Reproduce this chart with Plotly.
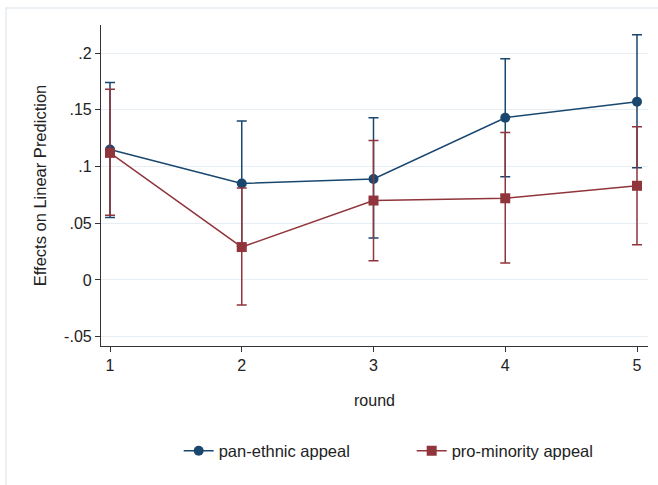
import plotly.graph_objects as go

rounds = [1, 2, 3, 4, 5]

pan_est = [0.115, 0.085, 0.089, 0.143, 0.157]
pan_hi = [0.174, 0.140, 0.143, 0.195, 0.216]
pan_lo = [0.055, 0.030, 0.037, 0.091, 0.099]

pro_est = [0.112, 0.029, 0.070, 0.072, 0.083]
pro_hi = [0.168, 0.081, 0.123, 0.130, 0.135]
pro_lo = [0.057, -0.022, 0.017, 0.015, 0.031]

y_tickvals = [-0.05, 0, 0.05, 0.1, 0.15, 0.2]
y_ticktext = ["-.05", "0", ".05", ".1", ".15", ".2"]

NAVY = "#1a476f"
MAROON = "#90353b"
FONT = "Liberation Sans, Arial, sans-serif"

def err(est, hi, lo, color):
    return dict(type="data", symmetric=False,
                array=[h - e for h, e in zip(hi, est)],
                arrayminus=[e - l for e, l in zip(est, lo)],
                color=color, thickness=1.5, width=5)

fig = go.Figure()
fig.add_trace(go.Scatter(
    x=rounds, y=pan_est, mode="lines+markers", name="pan-ethnic appeal",
    line=dict(color=NAVY, width=1.5),
    marker=dict(symbol="circle", size=10, color=NAVY),
    error_y=err(pan_est, pan_hi, pan_lo, NAVY)))
fig.add_trace(go.Scatter(
    x=rounds, y=pro_est, mode="lines+markers", name="pro-minority appeal",
    line=dict(color=MAROON, width=1.5),
    marker=dict(symbol="square", size=10, color=MAROON),
    error_y=err(pro_est, pro_hi, pro_lo, MAROON)))

fig.update_layout(
    width=658, height=485,
    margin=dict(l=101, r=10, t=25, b=139),
    paper_bgcolor="white", plot_bgcolor="white",
    font=dict(family=FONT, size=16, color="#222222"),
    showlegend=True,
    legend=dict(orientation="h", x=0.568, xanchor="center", y=-0.327, yanchor="middle",
                font=dict(size=16.5, color="#222222"), entrywidth=188,
                traceorder="normal"),
    shapes=[dict(type="rect", xref="paper", yref="paper",
                 x0=(6 - 101) / 547, x1=1.2, y0=-0.6, y1=(346 - 8) / 321,
                 line=dict(color="#e3ecf1", width=1.5), fillcolor="rgba(0,0,0,0)",
                 layer="below")],
)
fig.update_xaxes(
    range=[0.9317, 5.0835], tickvals=rounds, ticks="outside", ticklen=5,
    tickcolor="#333333", showline=True, linecolor="#333333", linewidth=1.2,
    showgrid=False, zeroline=False,
    title=dict(text="round", standoff=21, font=dict(size=16)),
    tickfont=dict(size=16))
fig.update_yaxes(
    range=[-0.0582, 0.2247], tickvals=y_tickvals, ticktext=y_ticktext,
    ticks="outside", ticklen=5, tickcolor="#333333",
    showline=True, linecolor="#333333", linewidth=1.2,
    showgrid=True, gridcolor="#e6eef3", gridwidth=1, zeroline=False,
    title=dict(text="Effects on Linear Prediction", standoff=13, font=dict(size=16.5)),
    tickfont=dict(size=16))

fig.write_html("out.html", config={"displayModeBar": False},
               post_script="document.body.style.margin='0';")
